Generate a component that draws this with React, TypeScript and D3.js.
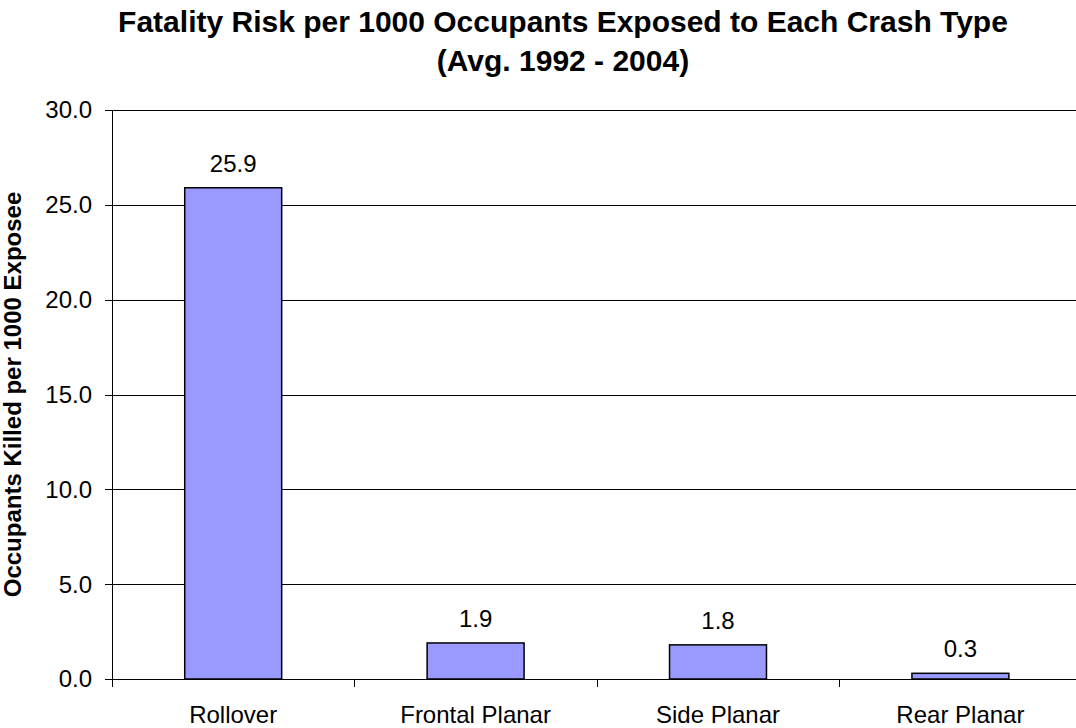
import * as d3 from 'd3';

const categories = ['Rollover', 'Frontal Planar', 'Side Planar', 'Rear Planar'];
const values = [25.9, 1.9, 1.8, 0.3];
const yTicks = [0, 5, 10, 15, 20, 25, 30];
const titleLines = ['Fatality Risk per 1000 Occupants Exposed to Each Crash Type', '(Avg. 1992 - 2004)'];
const yLabel = 'Occupants Killed per 1000 Exposee';

const W = 1076;
const H = 728;
const left = 112;
const top = 110;
const bottom = 679;
const step = 242.4;
const font = '"Liberation Sans", Arial, sans-serif';

const App = () => {
  const x = d3
    .scaleBand<string>()
    .domain(categories)
    .range([left, left + step * categories.length])
    .paddingInner(0.6)
    .paddingOuter(0.3);

  const y = d3.scaleLinear().domain([0, 30]).range([bottom, top]);

  const boundaries = categories.map((_, i) => left + i * x.step());

  return (
    <div style={{ position: 'fixed', left: 0, top: 0 }}>
      <svg width={W} height={H} style={{ display: 'block', background: '#fff' }} fontFamily={font}>
        <text x={563} y={32} textAnchor="middle" fontSize={30} fontWeight="bold">
          {titleLines[0]}
        </text>
        <text x={563} y={71} textAnchor="middle" fontSize={30} fontWeight="bold">
          {titleLines[1]}
        </text>

        {/* grid */}
        {yTicks.map((t) => (
          <g key={t}>
            {t > 0 && (
              <line x1={left} x2={W} y1={Math.round(y(t)) + 0.5} y2={Math.round(y(t)) + 0.5} stroke="#000" strokeWidth={1} />
            )}
            <line x1={left - 7} x2={left} y1={Math.round(y(t)) + 0.5} y2={Math.round(y(t)) + 0.5} stroke="#000" />
            <text x={92} y={y(t)} dy="0.35em" textAnchor="end" fontSize={24}>
              {t.toFixed(1)}
            </text>
          </g>
        ))}

        {/* bars */}
        {categories.map((c, i) => (
          <g key={c}>
            <rect
              x={x(c)}
              y={y(values[i])}
              width={x.bandwidth()}
              height={bottom - y(values[i])}
              fill="#9999FF"
              stroke="#000"
              strokeWidth={1.5}
            />
            <text x={(x(c) as number) + x.bandwidth() / 2} y={y(values[i]) - 16} textAnchor="middle" fontSize={24}>
              {values[i].toFixed(1)}
            </text>
            <text x={(x(c) as number) + x.bandwidth() / 2} y={723} textAnchor="middle" fontSize={24}>
              {c}
            </text>
          </g>
        ))}

        {/* axes */}
        <line x1={left + 0.5} x2={left + 0.5} y1={top} y2={bottom + 8} stroke="#000" />
        <line x1={left} x2={W} y1={bottom + 0.5} y2={bottom + 0.5} stroke="#000" />
        {boundaries.map((b) => (
          <line key={b} x1={Math.round(b) + 0.5} x2={Math.round(b) + 0.5} y1={bottom} y2={bottom + 8} stroke="#000" />
        ))}

        <text
          transform={`translate(21,${(top + bottom) / 2}) rotate(-90)`}
          textAnchor="middle"
          fontSize={24}
          fontWeight="bold"
        >
          {yLabel}
        </text>
      </svg>
    </div>
  );
};

export default App;
